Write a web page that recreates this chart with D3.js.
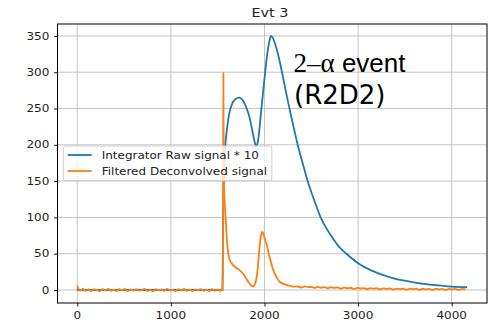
<!DOCTYPE html>
<html>
<head>
<meta charset="utf-8">
<script src="https://cdn.jsdelivr.net/npm/d3@7/dist/d3.min.js"></script>
<style>
  html, body { margin: 0; padding: 0; background: #fff; }
  svg { display: block; }
  text { font-family: "DejaVu Sans", sans-serif; }
</style>
</head>
<body>
<svg id="chart" width="489" height="323"></svg>
<script>
// ---------------- data ----------------
const title = "Evt 3";
const xTicks = [0, 1000, 2000, 3000, 4000];
const yTicks = [0, 50, 100, 150, 200, 250, 300, 350];
const seriesNames = ["Integrator Raw signal * 10", "Filtered Deconvolved signal"];

// Integrator raw signal * 10 (blue)
const blueX = [0, 10, 1550, 1556, 1562, 1572, 1585, 1600, 1620, 1650, 1690, 1731, 1770, 1810, 1840, 1863, 1890, 1908, 1920, 1940, 1955, 1975, 1995, 2020, 2041, 2058, 2069, 2085, 2100, 2130, 2166, 2201, 2237, 2272, 2308, 2340, 2379, 2420, 2457, 2500, 2550, 2600, 2700, 2800, 2878, 3000, 3100, 3269, 3400, 3500, 3643, 3800, 4000, 4165];
const blueY = [2, 0, 0, 60, 130, 180, 205, 222, 241, 255, 263, 265, 261, 250, 238, 224, 207, 199, 200, 214, 234, 260, 285, 315, 335, 346, 350, 348, 344, 332, 313, 291, 268, 247, 226, 208, 188, 169, 152, 135, 117, 100, 77, 59, 49.6, 37, 29.5, 20.6, 15.5, 12.8, 9.5, 7, 4.6, 3.8];

// Filtered deconvolved signal (orange): noisy baseline, pulse section, noisy tail
const orangeHeadStart = 0, orangeHeadStep = 30;
const orangeHeadY = [6, -1, 1.5, -1.2, 0.8, -1.5, 1, 0.3, -1.8, 1.2, -0.6, 1.6, -1, 0.5, -1.4, 1.1, -0.3, 1.4, -1.6, 0.7, -0.9, 1.3, -1.2, 0.4, 1.5, -1.1, 0.2, -1.7, 1.2, -0.5, 0.9, -1.3, 1.6, -0.8, 0.3, -1.5, 1.1, -0.4, 1.4, -1.2, 0.6, -1.6, 1, -0.2, 1.3, -1.1, 0.5, -1.4, 1.2, -0.7, 0.9, -1];
const orangePulseX = [1548, 1555, 1558, 1561, 1564, 1567, 1575, 1585, 1598, 1613, 1631, 1660, 1685, 1710, 1738, 1774, 1800, 1816, 1840, 1863, 1880, 1895, 1917, 1930, 1941, 1955, 1968, 1980, 1990, 2005, 2023, 2045, 2066, 2090, 2112, 2140, 2166, 2200, 2237, 2280, 2326];
const orangePulseY = [0.5, -0.5, 150, 299, 200, 150, 120, 100, 70, 50, 41, 35, 32, 29.5, 27, 22, 17, 13.5, 9, 6, 5, 7, 18, 32, 50, 68, 78, 80, 77, 70, 63, 50, 40, 29, 22, 15, 11, 8.5, 7, 5.5, 4.6];
const orangeTailStart = 2360, orangeTailStep = 35;
const orangeTailY = [4.8, 3.2, 5, 3.9, 4.4, 2.8, 4.2, 3.1, 3.9, 2.4, 3.8, 2.9, 3.5, 1.9, 3.3, 2.4, 3.1, 1.4, 2.9, 2.1, 2.7, 1.1, 2.6, 1.8, 2.4, 0.8, 2.3, 1.5, 2.1, 0.5, 2, 1.3, 1.9, 0.3, 1.8, 1.1, 1.9, 0.1, 1.7, 0.9, 1.6, -0.1, 1.7, 0.8, 1.5, -0.2, 1.6, 0.7, 1.4, -0.1, 1.5, 0.4];

const annotationLine1a = "2\u2013\u03B1";
const annotationLine1b = " event";
const annotationLine2 = "(R2D2)";

// ---------------- layout ----------------
const W = 489, H = 323;
const plot = { left: 57.5, right: 487, top: 24, bottom: 303 };
const sx = 1.2; // horizontal stretch of the source image text

const x = d3.scaleLinear().domain([-211, 4377]).range([plot.left, plot.right]);
const y = d3.scaleLinear().domain([-17.9, 366.4]).range([plot.bottom, plot.top]);

const svg = d3.select("#chart");
svg.append("rect").attr("width", W).attr("height", H).attr("fill", "#fff");

svg.append("clipPath").attr("id", "clip").append("rect")
  .attr("x", plot.left).attr("y", plot.top)
  .attr("width", plot.right - plot.left).attr("height", plot.bottom - plot.top);

// grid
const grid = svg.append("g").attr("stroke", "#c4c4c4").attr("stroke-width", 1);
xTicks.forEach(t => grid.append("line")
  .attr("x1", x(t)).attr("x2", x(t)).attr("y1", plot.top).attr("y2", plot.bottom));
yTicks.forEach(t => grid.append("line")
  .attr("x1", plot.left).attr("x2", plot.right).attr("y1", y(t)).attr("y2", y(t)));

// series data
const blueData = blueX.map((v, i) => [v, blueY[i]]);
const orangeData = []
  .concat(orangeHeadY.map((v, i) => [orangeHeadStart + i * orangeHeadStep, v]))
  .concat(orangePulseX.map((v, i) => [v, orangePulseY[i]]))
  .concat(orangeTailY.map((v, i) => [orangeTailStart + i * orangeTailStep, v]));

const line = d3.line().x(d => x(d[0])).y(d => y(d[1])).curve(d3.curveMonotoneX);
const lines = svg.append("g").attr("clip-path", "url(#clip)");
lines.append("path").datum(blueData).attr("d", line)
  .attr("fill", "none").attr("stroke", "#1f77b4").attr("stroke-width", 1.8).attr("stroke-linejoin", "round");
lines.append("path").datum(orangeData).attr("d", line)
  .attr("fill", "none").attr("stroke", "#ff7f0e").attr("stroke-width", 1.8).attr("stroke-linejoin", "round");

// axes (D3 axes, restyled)
const xAxis = d3.axisBottom(x).tickValues(xTicks).tickSize(3.5).tickFormat("");
const yAxis = d3.axisLeft(y).tickValues(yTicks).tickSize(3.5).tickFormat("");
const gx = svg.append("g").attr("transform", `translate(0,${plot.bottom})`).call(xAxis);
const gy = svg.append("g").attr("transform", `translate(${plot.left},0)`).call(yAxis);
[gx, gy].forEach(g => {
  g.select(".domain").remove();
  g.selectAll(".tick line").attr("stroke", "#000").attr("stroke-width", 0.9);
});

function stretchedText(parent, px, py, str, size, anchor, fill) {
  const g = parent.append("g").attr("transform", `translate(${px},${py}) scale(${sx},1)`);
  g.append("text").attr("x", 0).attr("y", 0).attr("font-size", size)
    .attr("text-anchor", anchor).attr("fill", fill || "#222").text(str);
  return g;
}
const labels = svg.append("g");
xTicks.forEach(t => stretchedText(labels, x(t), 319.3, d3.format("d")(t), 10, "middle"));
yTicks.forEach(t => stretchedText(labels, 49.3, y(t) + 3.6, d3.format("d")(t), 10, "end"));

// spines
svg.append("rect").attr("x", plot.left).attr("y", plot.top)
  .attr("width", plot.right - plot.left).attr("height", plot.bottom - plot.top)
  .attr("fill", "none").attr("stroke", "#000").attr("stroke-width", 1);

// title
stretchedText(svg, 270, 16.7, title, 12, "middle");

// legend
const lg = svg.append("g");
lg.append("rect").attr("x", 63.3).attr("y", 146).attr("width", 208.5).attr("height", 34.5)
  .attr("rx", 2).attr("fill", "#fff").attr("fill-opacity", 0.8)
  .attr("stroke", "#d0d0d0").attr("stroke-width", 1);
const legendColors = ["#1f77b4", "#ff7f0e"];
seriesNames.forEach((name, i) => {
  const ly = 155 + i * 16;
  lg.append("line").attr("x1", 67.7).attr("x2", 91.7).attr("y1", ly).attr("y2", ly)
    .attr("stroke", legendColors[i]).attr("stroke-width", 1.8);
  stretchedText(lg, 101.7, ly + 3.7, name, 10, "start");
});

// annotation
const ann = svg.append("g");
const t1 = ann.append("text").attr("x", 293.5).attr("y", 71.7).attr("fill", "#000");
t1.append("tspan").attr("font-family", "'Liberation Serif', 'Times New Roman', serif")
  .attr("font-size", 27).text(annotationLine1a);
t1.append("tspan").attr("font-family", "'Liberation Sans', Arial, sans-serif")
  .attr("font-size", 26).text(annotationLine1b);
ann.append("text").attr("x", 294).attr("y", 104)
  .attr("font-family", "'Liberation Sans', Arial, sans-serif").attr("font-size", 26)
  .attr("fill", "#000").text(annotationLine2);
</script>
</body>
</html>
